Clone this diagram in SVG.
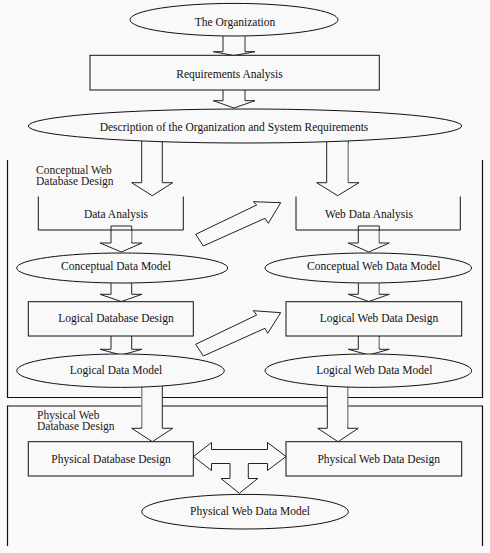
<svg xmlns="http://www.w3.org/2000/svg" width="490" height="553" viewBox="0 0 490 553">
<style>
.bg{fill:#f9f9f9}
.n{fill:#f9f9f9;stroke:#111;stroke-width:1}
.open{fill:none;stroke:#111;stroke-width:1}
.fr{fill:none;stroke:#111;stroke-width:1.2}
.ar{fill:#f9f9f9;stroke:#222;stroke-width:1;stroke-linejoin:miter}
.sh{fill:none;stroke:#999;stroke-width:1.2}
text{font-family:"Liberation Serif","Times New Roman",serif;font-size:11.5px;fill:#111;text-anchor:middle}
text.lbl{text-anchor:start;font-size:11.5px;fill:#222}
</style>
<rect class="bg" x="0" y="0" width="490" height="553"/>

<g id="frames">
  <path class="fr" d="M7.5,160 V397.5 H482.5 V160"/>
  <path class="fr" d="M7.5,546 V406 H482.5 V546"/>
  <text class="lbl" x="36" y="173.5">Conceptual Web</text>
  <text class="lbl" x="36" y="185">Database Design</text>
  <text class="lbl" x="37" y="418.5">Physical Web</text>
  <text class="lbl" x="37" y="429.5">Database Design</text>
</g>

<g id="connectors">
  <polygon class="ar" points="223,30 223,51.7 213.3,51.7 234,55.5 255,51.7 245,51.7 245,30"/>
  <line class="sh" x1="245" y1="37" x2="245" y2="51"/>
  <polygon class="ar" points="223,88 223,100.7 213.3,100.7 234,108 255,100.7 245,100.7 245,88"/>
  <line class="sh" x1="245" y1="91" x2="245" y2="100"/>
  <polygon class="ar" points="141.7,135 141.7,182.7 131.7,182.7 152.2,195.7 172.7,182.7 162.3,182.7 162.3,135"/>
  <polygon class="ar" points="326.7,135 326.7,182.7 316.7,182.7 337.7,195.7 359,182.7 348.3,182.7 348.3,135"/>
  <line class="sh" x1="348.3" y1="143" x2="348.3" y2="182"/>
  <polygon class="ar" points="111,226 111,243 100,243 121.3,252 142,243 131.7,243 131.7,226"/>
  <line class="sh" x1="131.7" y1="231" x2="131.7" y2="242"/>
  <polygon class="ar" points="358.3,226 358.3,243 348.3,243 368.8,252 389.3,243 379.3,243 379.3,226"/>
  <line class="sh" x1="379.3" y1="231" x2="379.3" y2="242"/>
  <polygon class="ar" points="111,275 111,294.3 100,294.3 121.3,301.5 142,294.3 131.7,294.3 131.7,275"/>
  <polygon class="ar" points="358.3,275 358.3,294.3 348.3,294.3 368.8,301.5 389.3,294.3 379.3,294.3 379.3,275"/>
  <line class="sh" x1="379.3" y1="284" x2="379.3" y2="293"/>
  <polygon class="ar" points="111,334 111,349.3 100,349.3 121.3,355 142,349.3 131.7,349.3 131.7,334"/>
  <polygon class="ar" points="358.3,334 358.3,349.3 348.3,349.3 368.8,355 389.3,349.3 379.3,349.3 379.3,334"/>
  <line class="sh" x1="379.3" y1="337" x2="379.3" y2="348"/>
  <polygon class="ar" points="141.7,380 141.7,428.3 131.7,428.3 152.3,441.7 172.7,428.3 162.3,428.3 162.3,380"/>
  <line class="sh" x1="141.7" y1="388" x2="141.7" y2="427"/>
  <polygon class="ar" points="327.3,380 327.3,428.3 317.7,428.3 338,441.7 358.3,428.3 347.7,428.3 347.7,380"/>
  <line class="sh" x1="347.7" y1="388" x2="347.7" y2="427"/>
  <polygon class="ar" points="195.7,234.3 256.7,205 253.3,201.7 280.7,202.7 268.3,223.3 265,218.3 203.3,246"/>
  <polygon class="ar" points="195.7,344.3 256.7,315 253.3,310.7 280.7,312.7 267.7,333.3 265,328.3 203.3,356"/>
  <polygon class="ar" points="193.5,456.5 211.5,442.5 211.5,449.5 267.5,449.5 267.5,442.5 286,456.5 267.5,470.5 267.5,463.5 248.3,463.5 248.3,478.5 257.7,478.5 239.3,493.3 221,478.5 230,478.5 230,463.5 211.5,463.5 211.5,470.5"/>
</g>

<g id="n-organization">
  <ellipse class="n" cx="234" cy="19.7" rx="104" ry="16.3"/>
  <text x="235" y="25.5">The Organization</text>
</g>
<g id="n-requirements">
  <rect class="n" x="90" y="55.3" width="289.3" height="34.7"/>
  <text x="229.5" y="77.5">Requirements Analysis</text>
</g>
<g id="n-description">
  <ellipse class="n" cx="245" cy="126" rx="216.7" ry="17"/>
  <text x="234" y="130.5">Description of the Organization and System Requirements</text>
</g>
<g id="n-data-analysis">
  <path class="open" d="M38.3,196.5 V230 H183.3 V196.5"/>
  <text x="116" y="218">Data Analysis</text>
</g>
<g id="n-web-data-analysis">
  <path class="open" d="M296,196.5 V230 H460.3 V196.5"/>
  <text x="369" y="218">Web Data Analysis</text>
</g>
<g id="n-conceptual-data-model">
  <ellipse class="n" cx="122.2" cy="268" rx="105.5" ry="15"/>
  <text x="116" y="269.5">Conceptual Data Model</text>
</g>
<g id="n-conceptual-web-data-model">
  <ellipse class="n" cx="368.3" cy="268" rx="103.3" ry="15"/>
  <text x="373.7" y="269.5">Conceptual Web Data Model</text>
</g>
<g id="n-logical-database-design">
  <rect class="n" x="28.3" y="301.7" width="165" height="34.3"/>
  <text x="116" y="322">Logical Database Design</text>
</g>
<g id="n-logical-web-data-design">
  <rect class="n" x="286" y="301.7" width="175.7" height="34.3"/>
  <text x="379" y="322">Logical Web Data Design</text>
</g>
<g id="n-logical-data-model">
  <ellipse class="n" cx="120.5" cy="370.7" rx="103.8" ry="16.7"/>
  <text x="116" y="374">Logical Data Model</text>
</g>
<g id="n-logical-web-data-model">
  <ellipse class="n" cx="368.3" cy="370.7" rx="103.3" ry="16.7"/>
  <text x="374.3" y="374">Logical Web Data Model</text>
</g>
<g id="n-physical-database-design">
  <rect class="n" x="28.3" y="441.7" width="165" height="34.3"/>
  <text x="111" y="463">Physical Database Design</text>
</g>
<g id="n-physical-web-data-design">
  <rect class="n" x="286" y="441.7" width="175.7" height="34.3"/>
  <text x="378.7" y="463">Physical Web Data Design</text>
</g>
<g id="n-physical-web-data-model">
  <ellipse class="n" cx="245" cy="511.7" rx="103.3" ry="17.3"/>
  <text x="250" y="515">Physical Web Data Model</text>
</g>
</svg>
